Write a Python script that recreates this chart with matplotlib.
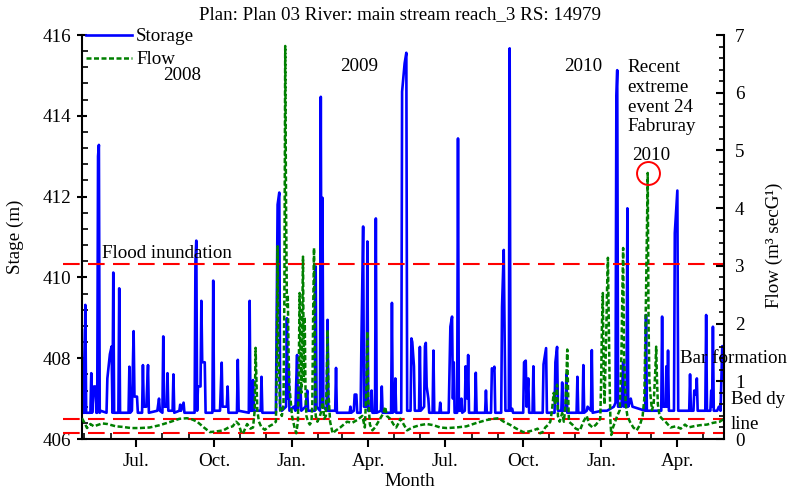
import numpy as np
import pandas as pd
import matplotlib
matplotlib.use('Agg')
import matplotlib.pyplot as plt
import matplotlib.dates as mdates
from matplotlib.ticker import MultipleLocator

plt.rcParams['font.family'] = 'Liberation Serif'
plt.rcParams['font.size'] = 13.7

# days counted from the first day of the record
start = pd.Timestamp('2008-04-28')

storage_day = [0, 1, 3, 4, 5, 10, 11, 12, 14, 16, 17, 18, 19, 20, 21, 22, 29, 30, 33, 35,
               36, 37, 38, 43, 44, 45, 55, 56, 57, 59, 61, 62, 65, 66, 71, 72, 73, 76, 78, 79,
               89, 91, 92, 95, 96, 97, 100, 101, 102, 107, 108, 109, 115, 116, 117, 120, 121, 133, 134, 135,
               136, 137, 140, 141, 142, 145, 146, 154, 155, 156, 163, 165, 166, 171, 172, 173, 183, 184, 185,
               197, 198, 199, 201, 202, 203, 211, 212, 213, 229, 231, 233, 234, 236, 241, 242, 243, 244, 245,
               250, 252, 254, 255, 258, 259, 264, 266, 267, 275, 276, 277, 281, 282, 283, 284, 285, 289, 290,
               291, 299, 300, 301, 316, 317, 318, 321, 322, 324, 325, 329, 330, 332, 333, 336, 337, 338, 341,
               342, 343, 346, 347, 348, 353, 354, 355, 365, 366, 367, 369, 370, 371, 377, 378, 381, 383, 384,
               388, 389, 390, 392, 393, 398, 399, 400, 404, 405, 406, 407, 409, 410, 414, 415, 416, 422, 423,
               424, 433, 435, 437, 438, 439, 440, 443, 444, 445, 447, 448, 449, 452, 453, 455, 456, 457, 464,
               465, 466, 476, 477, 478, 483, 484, 486, 487, 488, 495, 496, 498, 500, 504, 505, 506, 508, 509,
               521, 522, 524, 525, 527, 528, 532, 533, 534, 544, 545, 548, 549, 558, 559, 561, 562,
               566, 567, 568, 571, 572, 573, 584, 585, 586, 591, 592, 593, 596, 597, 601, 602, 603, 614,
               620, 628, 630, 631, 632, 633, 637, 639, 640, 643, 644, 645, 648, 650, 665, 666, 667, 684,
               685, 686, 689, 690, 691, 692, 693, 699, 700, 703, 704, 717, 718, 719, 722, 723, 725, 726,
               727, 736, 737, 738, 742, 743, 744, 745, 746, 750, 752, 754, 756, 758]
storage_m = [408.70, 406.65, 406.65, 409.32, 406.65, 406.65, 407.63, 406.65, 407.30, 407.30, 406.65, 406.65, 413.00, 413.28, 406.65, 406.70, 406.65, 407.50, 408.10, 408.29,
             406.65, 410.12, 406.65, 406.65, 409.73, 406.65, 406.65, 407.79, 406.65, 406.70, 408.67, 407.05, 407.05, 406.65, 406.65, 407.83, 406.80, 406.80, 407.83, 406.65,
             406.70, 407.00, 406.70, 406.65, 408.54, 406.80, 406.80, 407.63, 406.70, 406.70, 407.60, 406.65, 406.70, 406.85, 406.70, 406.90, 406.65, 406.65, 410.40, 410.91,
             406.70, 407.30, 407.30, 409.42, 407.90, 407.90, 406.65, 406.65, 409.92, 406.70, 406.70, 407.89, 406.80, 406.80, 407.30, 406.65, 406.65, 407.96, 406.70,
             406.65, 409.42, 406.70, 406.70, 407.46, 406.70, 406.70, 407.54, 406.65, 406.65, 411.80, 412.10, 406.80, 406.70, 406.80, 408.99, 407.00, 407.79, 406.70,
             406.80, 406.70, 408.08, 406.70, 407.30, 406.70, 406.80, 407.20, 406.70, 406.70, 410.27, 406.80, 406.70, 414.47, 406.90, 411.97, 406.80, 406.70, 408.95,
             406.70, 406.70, 407.76, 406.65, 406.65, 406.80, 406.65, 406.70, 407.10, 407.10, 406.65, 406.65, 408.45, 411.26, 406.80, 406.80, 410.89, 406.70, 406.70,
             407.20, 406.65, 406.65, 411.46, 406.65, 406.70, 407.30, 406.65, 406.65, 409.37, 406.65, 406.70, 407.50, 406.65, 406.65, 414.60, 415.30, 415.56, 406.70,
             406.70, 408.49, 408.40, 407.80, 406.70, 406.70, 408.28, 406.70, 406.80, 408.30, 408.38, 407.30, 407.00, 406.65, 406.65, 408.19, 406.65, 406.65, 406.90,
             406.65, 406.65, 408.78, 409.03, 407.00, 407.90, 406.65, 406.65, 413.44, 406.70, 406.70, 407.00, 406.65, 406.70, 407.80, 407.00, 408.08, 406.65, 406.65,
             407.64, 406.65, 406.65, 407.20, 406.65, 406.65, 407.75, 407.70, 407.79, 406.65, 406.65, 409.27, 410.68, 406.70, 406.70, 415.67, 406.70, 406.75, 406.65,
             406.65, 407.90, 407.94, 406.80, 407.50, 406.65, 406.65, 407.80, 406.65, 406.65, 407.85, 408.25, 406.65, 406.65, 407.90, 408.28, 406.70,
             406.70, 407.40, 406.70, 406.70, 407.60, 406.65, 406.65, 407.54, 406.65, 406.65, 407.83, 406.65, 406.70, 406.80, 406.70, 408.20, 406.65, 406.70,
             406.70, 406.80, 406.90, 414.50, 415.13, 406.80, 406.80, 407.90, 406.80, 406.80, 411.71, 406.80, 407.00, 406.80, 406.70, 409.07, 406.70, 406.70,
             409.03, 406.80, 406.80, 407.80, 406.80, 408.19, 406.70, 406.70, 411.10, 412.15, 406.70, 406.70, 407.60, 406.70, 406.70, 407.20, 407.10, 407.50,
             406.70, 406.70, 409.07, 406.70, 406.70, 407.20, 406.80, 408.78, 406.70, 406.70, 406.80, 406.70, 408.30, 407.50]

flow_day = [0, 3, 6, 10, 14, 18, 24, 30, 40, 48, 58, 68, 80, 92, 105, 115, 124, 130, 136, 144,
            151, 158, 167, 173, 178, 182, 185, 188, 190, 195, 199, 202, 204, 205, 207, 209, 212, 216, 221, 226,
            229, 230, 231, 232, 234, 236, 238, 239, 240, 241, 242, 243, 244, 245, 248, 251, 253, 255, 256, 257,
            258, 259, 260, 261, 262, 263, 264, 265, 267, 269, 271, 272, 273, 274, 275, 276, 278, 281, 283, 284,
            286, 288, 289, 290, 291, 293, 296, 300, 305, 309, 313, 319, 325, 331, 334, 336, 337, 338, 340, 343,
            346, 352, 356, 358, 360, 364, 368, 371, 374, 376, 380, 384, 390, 399, 407, 415, 423, 431, 442, 454,
            466, 478, 486, 492, 498, 505, 513, 521, 527, 533, 538, 541, 544, 547, 550, 553, 555, 557, 559, 561,
            562, 564, 567, 569, 571, 573, 574, 575, 579, 583, 588, 592, 596, 599, 603, 607, 612, 613, 614, 615,
            616, 617, 619, 620, 621, 622, 623, 624, 625, 627, 632, 635, 637, 638, 639, 640, 642, 644, 647, 651,
            655, 659, 662, 664, 666, 668, 669, 670, 671, 673, 675, 677, 678, 679, 680, 682, 685, 689, 695, 701,
            707, 712, 716, 722, 730, 738, 745, 753, 758]
flow_cms = [0.36, 0.28, 0.19, 0.26, 0.22, 0.24, 0.27, 0.26, 0.22, 0.21, 0.19, 0.19, 0.20, 0.24, 0.30, 0.35, 0.36, 0.34, 0.30, 0.20,
            0.12, 0.13, 0.15, 0.20, 0.22, 0.30, 0.26, 0.12, 0.09, 0.26, 0.18, 0.20, 0.50, 1.58, 0.50, 0.30, 0.20, 0.16, 0.22, 0.26,
            0.30, 1.20, 3.34, 1.50, 0.50, 0.40, 0.60, 2.50, 6.81, 4.00, 2.30, 2.50, 1.50, 0.90, 0.40, 0.20, 0.10, 0.30, 1.20, 2.53,
            1.50, 0.80, 2.00, 3.16, 1.00, 2.12, 0.80, 0.40, 0.30, 0.25, 0.30, 0.60, 2.20, 3.31, 1.50, 0.40, 0.30, 0.40, 0.50, 0.70,
            0.35, 0.40, 1.00, 1.89, 0.80, 0.30, 0.10, 0.15, 0.20, 0.25, 0.30, 0.28, 0.33, 0.40, 0.20, 0.90, 1.86, 0.70, 0.25, 0.15,
            0.20, 0.35, 0.45, 0.56, 0.40, 0.35, 0.25, 0.20, 0.28, 0.35, 0.25, 0.15, 0.20, 0.24, 0.26, 0.24, 0.20, 0.19, 0.20, 0.22,
            0.28, 0.33, 0.35, 0.36, 0.30, 0.25, 0.18, 0.12, 0.13, 0.15, 0.18, 0.10, 0.12, 0.20, 0.24, 0.30, 0.50, 0.80, 0.60, 0.94,
            0.40, 0.30, 0.45, 0.30, 0.60, 1.55, 0.80, 0.30, 0.25, 0.18, 0.15, 0.30, 0.40, 0.25, 0.20, 0.25, 0.35, 1.00, 2.00, 2.53,
            1.20, 0.60, 1.80, 2.60, 3.14, 2.00, 1.00, 0.30, 0.07, 0.20, 0.40, 0.50, 1.50, 2.50, 3.31, 1.50, 0.60, 0.40, 0.30, 0.20,
            0.15, 0.25, 0.40, 0.70, 2.50, 4.61, 2.00, 1.00, 0.80, 0.50, 0.60, 1.20, 1.60, 1.00, 0.60, 0.40, 0.35, 0.30, 0.20, 0.22,
            0.18, 0.25, 0.20, 0.22, 0.24, 0.25, 0.28, 0.30, 0.35]

flood_level = 410.33
bar_level = 406.50
bed_level = 406.15

t_storage = start + pd.to_timedelta(storage_day, unit='D')
t_flow = start + pd.to_timedelta(flow_day, unit='D')

fig = plt.figure(figsize=(7.88, 4.93), dpi=100)
ax = fig.add_axes([0.104, 0.1095, 0.8147, 0.8195])
ax2 = ax.twinx()

l1, = ax.plot(t_storage, storage_m, color='#0000ff', lw=1.9, label='Storage')
l2, = ax2.plot(t_flow, flow_cms, color='#008000', lw=1.8, dashes=(2, 1), label='Flow')

for lvl in (flood_level, bar_level, bed_level):
    ax.axhline(lvl, xmin=-0.03, xmax=1.0, color='#ff0000', lw=1.5, dashes=(8, 4), clip_on=False, zorder=3)

# circle round the February 2010 peak
fd = np.array(flow_day)
fq = np.array(flow_cms)
late = np.where(fd >= 600)[0]
i_pk = late[np.argmax(fq[late])]
ax2.plot(t_flow[i_pk], fq[i_pk], 'o', ms=16.5, mfc='none', mec='#ff0000', mew=1.4, zorder=5)

ax.set_xlim(start, start + pd.Timedelta(days=758))
ax.set_ylim(406, 416)
ax2.set_ylim(0, 7)

ax.xaxis.set_major_locator(mdates.MonthLocator(bymonth=[1, 4, 7, 10]))
ax.xaxis.set_major_formatter(mdates.DateFormatter('%b.'))
ax.xaxis.set_minor_locator(mdates.MonthLocator())
ax.yaxis.set_major_locator(MultipleLocator(2))
ax.yaxis.set_minor_locator(MultipleLocator(0.4))
ax2.yaxis.set_major_locator(MultipleLocator(1))
ax2.yaxis.set_minor_locator(MultipleLocator(0.2))

for a in (ax, ax2):
    a.spines['top'].set_visible(False)
    for s in a.spines.values():
        s.set_linewidth(1.5)
ax.spines['right'].set_visible(False)
ax2.spines['left'].set_visible(False)
ax2.spines['bottom'].set_visible(False)

ax.tick_params(axis='x', which='major', direction='out', length=6, width=1.5, pad=4)
ax.tick_params(axis='x', which='minor', direction='in', length=4, width=1.2)
ax.tick_params(axis='y', which='major', direction='inout', length=7, width=1.5, pad=4)
ax.tick_params(axis='y', which='minor', direction='in', length=4, width=1.2)
ax2.tick_params(axis='y', which='major', direction='in', length=6, width=1.5, pad=8)
ax2.tick_params(axis='y', which='minor', direction='in', length=3.5, width=1.2)

ax.set_xlabel('Month')
ax.xaxis.label.set_va('center')
ax.xaxis.set_label_coords(0.511, -0.106)
ax.set_ylabel('Stage (m)')
ax.yaxis.label.set_va('center')
ax.yaxis.set_label_coords(-0.104, 0.5)
ax2.set_ylabel('Flow (m³ secG¹)')
ax2.yaxis.label.set_va('center')
ax2.yaxis.set_label_coords(1.079, 0.48)

fig.text(0.508, 0.9696, 'Plan: Plan 03 River: main stream reach_3 RS: 14979', ha='center', va='center')

ax2.legend(handles=[l1, l2], loc='upper left', bbox_to_anchor=(0.006, 1.017), frameon=False,
           borderpad=0, borderaxespad=0, handlelength=2.45, handletextpad=0.2, labelspacing=0.3)

tr = ax.transAxes
ax.text(0.156, 0.899, '2008', transform=tr, ha='center', va='center')
ax.text(0.431, 0.921, '2009', transform=tr, ha='center', va='center')
ax.text(0.780, 0.921, '2010', transform=tr, ha='center', va='center')
ax.text(0.850, 0.940, 'Recent\nextreme\nevent 24\nFabruray', transform=tr, ha='left', va='top', linespacing=1.21)
ax.text(0.886, 0.701, '2010', transform=tr, ha='center', va='center')
ax.text(0.032, 0.460, 'Flood inundation', transform=tr, ha='left', va='center')
ax2.text(0.931, 0.200, 'Bar formation', transform=tr, ha='left', va='center', zorder=6)
ax2.text(1.011, 0.099, 'Bed dy', transform=tr, ha='left', va='center')
ax2.text(1.011, 0.036, 'line', transform=tr, ha='left', va='center')

fig.savefig('out.png', dpi=100)
